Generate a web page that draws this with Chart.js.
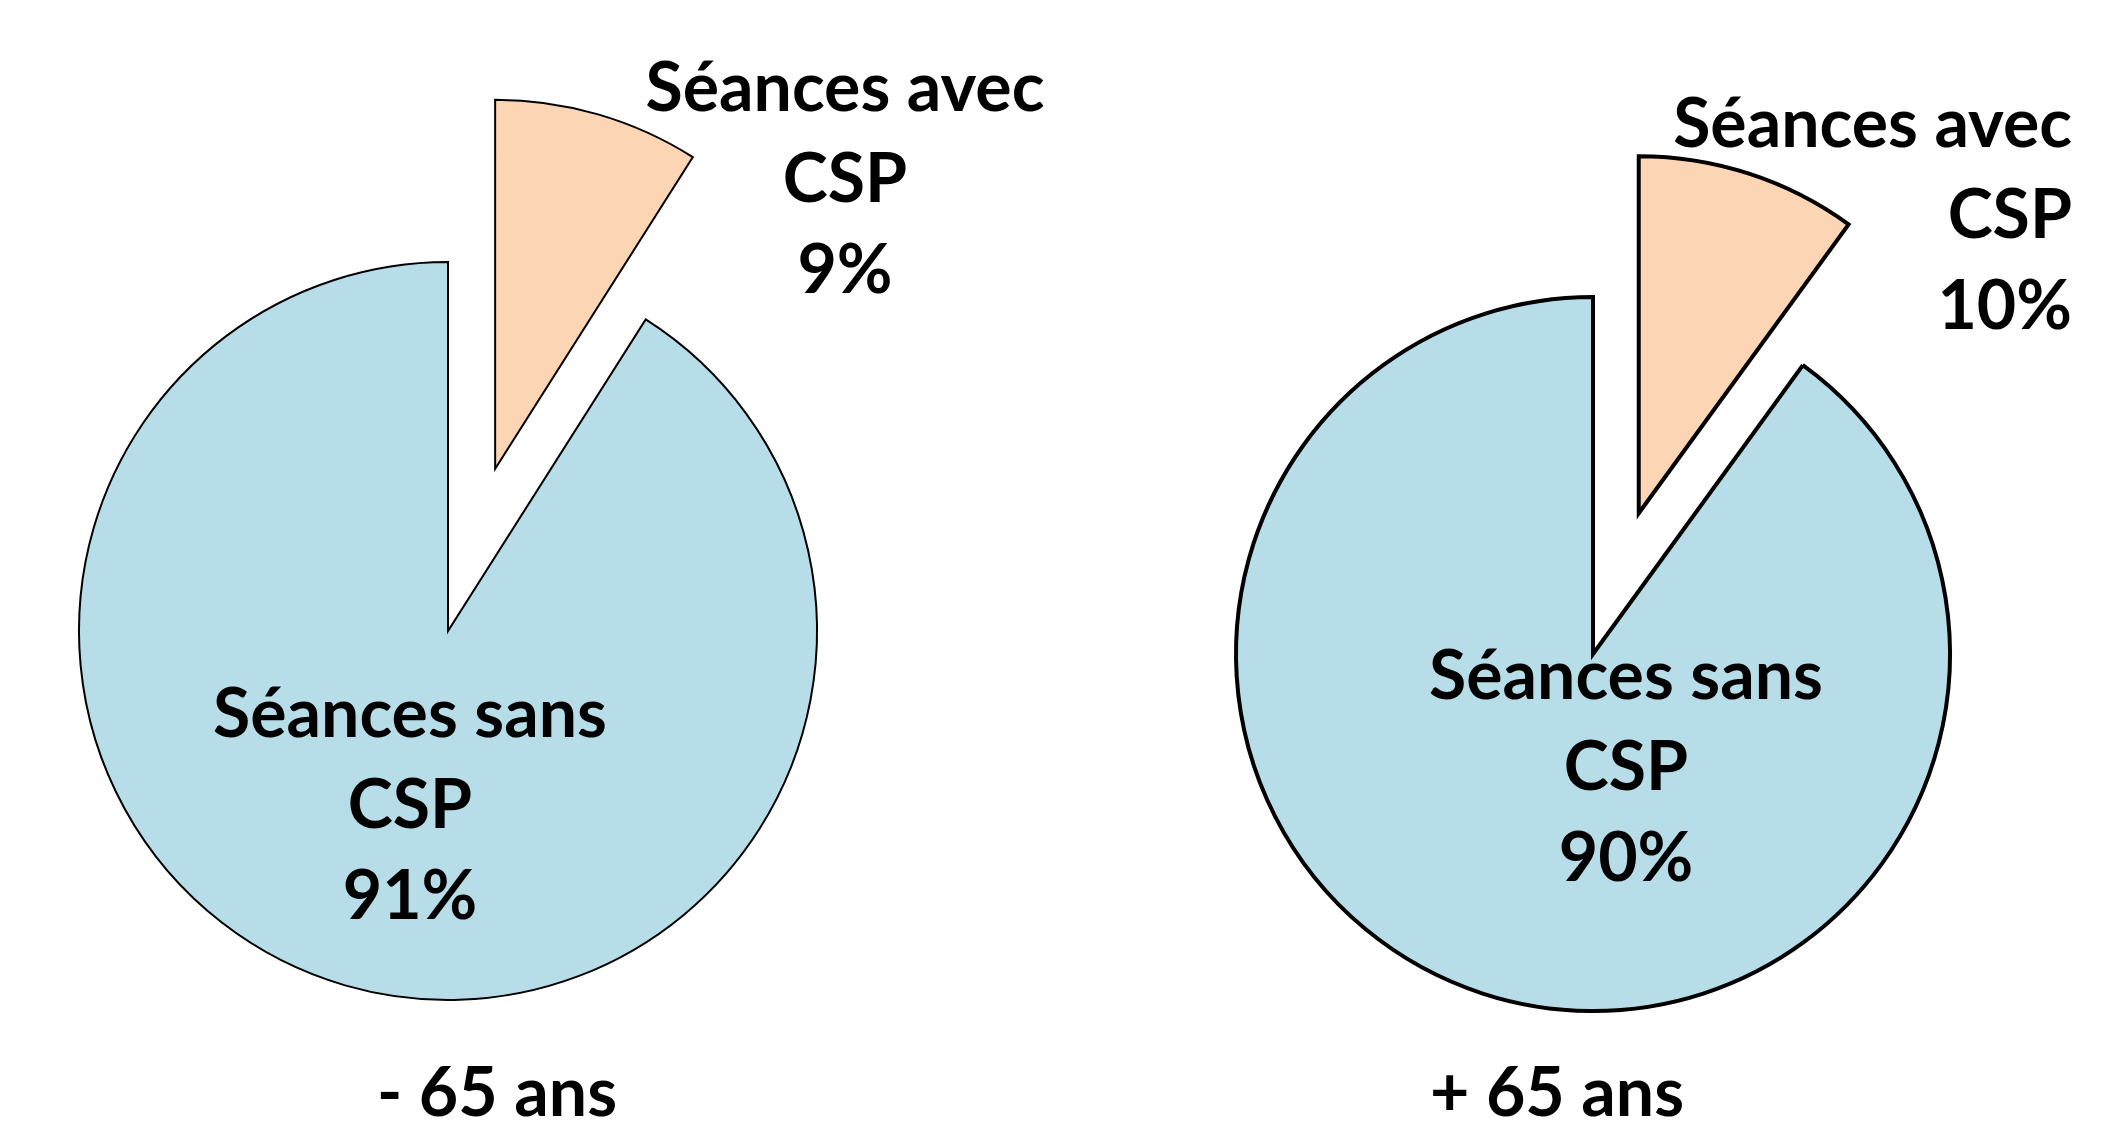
<!DOCTYPE html>
<html>
<head>
<meta charset="utf-8">
<script src="https://cdn.jsdelivr.net/npm/chart.js@4"></script>
<style>
  html, body { margin: 0; padding: 0; background: #ffffff; }
  #wrap { position: relative; width: 2123px; height: 1124px; overflow: hidden; }
  #wrap canvas { position: absolute; left: 0; top: 0; }
</style>
</head>
<body>
<div id="wrap">
  <canvas id="pieUnder" width="2123" height="1124"></canvas>
  <canvas id="pieOver" width="2123" height="1124"></canvas>
</div>
<script>
// data
const categories = [['Séances avec', 'CSP'], ['Séances sans', 'CSP']];
const groups = ['- 65 ans', '+ 65 ans'];
const valuesUnder65 = [9, 91];
const valuesOver65 = [10, 90];

const sliceColors = ['#FCD5B5', '#B7DEE8'];
const labelFont = 'bold 68px Lato, "Open Sans", sans-serif';
const lineGap = 91;

// chart.js "offset" also grows the arc, so pull the first slice out by hand
// (keeps the radius the library gave it)
const explodeFirst = {
    id: 'explodeFirst',
    afterDatasetsUpdate: function(chart, args, opts) {
        var arc = chart.getDatasetMeta(0).data[0];
        var mid = (arc.startAngle + arc.endAngle) / 2;
        arc.x += Math.cos(mid) * opts.distance;
        arc.y += Math.sin(mid) * opts.distance;
    }
};

// draws slice labels and group caption around the pie centre
const pieLabels = {
    id: 'pieLabels',
    afterDatasetsDraw: function(chart, args, opts) {
        var ctx = chart.ctx;
        var arc = chart.getDatasetMeta(0).data[1];
        var cx = arc.x, cy = arc.y;
        var values = chart.data.datasets[0].data;
        ctx.save();
        ctx.fillStyle = '#000000';
        ctx.font = labelFont;
        ctx.textBaseline = 'middle';
        opts.spots.forEach(function(spot, i) {
            var lines = categories[i].concat([values[i] + '%']);
            ctx.textAlign = spot.align;
            lines.forEach(function(line, j) {
                ctx.fillText(line, cx + spot.dx, cy + spot.dy + j * lineGap);
            });
        });
        ctx.textAlign = 'center';
        ctx.fillText(opts.caption, cx + opts.captionDx, cy + opts.captionDy);
        ctx.restore();
    }
};

function makePie(id, values, caption, setup) {
    return new Chart(document.getElementById(id), {
        type: 'pie',
        data: {
            labels: categories.map(function(c) { return c.join(' '); }),
            datasets: [{
                data: values,
                backgroundColor: sliceColors,
                borderColor: '#000000',
                borderWidth: setup.border,
                borderJoinStyle: 'miter',
                hoverOffset: 0
            }]
        },
        options: {
            responsive: false,
            animation: false,
            events: [],
            radius: setup.radius,
            layout: { padding: setup.padding },
            plugins: {
                legend: { display: false },
                tooltip: { enabled: false },
                title: { display: false },
                explodeFirst: { distance: setup.explode },
                pieLabels: {
                    spots: setup.spots,
                    caption: caption,
                    captionDx: setup.captionDx,
                    captionDy: setup.captionDy
                }
            }
        },
        plugins: [explodeFirst, pieLabels]
    });
}

var chartUnder = makePie('pieUnder', valuesUnder65, groups[0], {
    radius: 369,
    border: 2,
    explode: 169,
    padding: { left: 0, right: 1227, top: 138, bottom: 0 },
    spots: [
        { dx: 397, dy: -542, align: 'center' },
        { dx: -38, dy: 84, align: 'center' }
    ],
    captionDx: 49,
    captionDy: 463
});

var chartOver = makePie('pieOver', valuesOver65, groups[1], {
    radius: 357,
    border: 4,
    explode: 148,
    padding: { left: 1063, right: 0, top: 184, bottom: 0 },
    spots: [
        { dx: 479, dy: -529, align: 'right' },
        { dx: 33, dy: 23, align: 'center' }
    ],
    captionDx: -36,
    captionDy: 440
});
</script>
</body>
</html>
